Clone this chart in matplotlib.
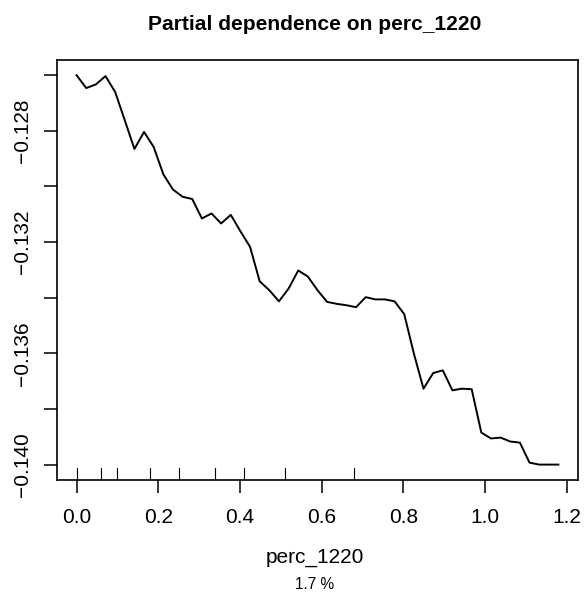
import numpy as np
import matplotlib
matplotlib.use("Agg")
import matplotlib.pyplot as plt

plt.rcParams['font.family'] = ['Liberation Sans', 'DejaVu Sans']

# ====== data ======
x_lo, x_hi, n_pts = 0.0, 1.18, 51
pd_values = [-0.12600, -0.12646, -0.12633, -0.12603, -0.12660, -0.12762, -0.12865,
             -0.12804, -0.12858, -0.12956, -0.13011, -0.13037, -0.13045, -0.13115,
             -0.13097, -0.13133, -0.13102, -0.13161, -0.13217, -0.13341, -0.13373,
             -0.13413, -0.13367, -0.13302, -0.13324, -0.13373, -0.13415, -0.13422,
             -0.13427, -0.13434, -0.13398, -0.13406, -0.13406, -0.13413, -0.13459,
             -0.13601, -0.13727, -0.13671, -0.13661, -0.13733, -0.13727, -0.13729,
             -0.13885, -0.13906, -0.13903, -0.13917, -0.13921, -0.13993, -0.14000,
             -0.14000, -0.14000]
deciles = [0.0, 0.06, 0.10, 0.18, 0.25, 0.34, 0.41, 0.51, 0.68]
xticks = [0.0, 0.2, 0.4, 0.6, 0.8, 1.0, 1.2]
yticks = [-0.140, -0.138, -0.136, -0.134, -0.132, -0.130, -0.128, -0.126]
ytick_labels = ['\u22120.140', '', '\u22120.136', '', '\u22120.132', '', '\u22120.128', '']
var_name = 'perc_1220'
importance = '1.7 %'

x_grid = np.linspace(x_lo, x_hi, n_pts)

fig = plt.figure(figsize=(5.85, 5.95), dpi=100)
ax = fig.add_axes([0.098, 0.193, 0.8895, 0.7067])

ax.plot(x_grid, pd_values, color='black', lw=1.4)

# R style 4% padding
xr = x_hi - x_lo
yr = max(pd_values) - min(pd_values)
ax.set_xlim(x_lo - 0.04 * xr, x_hi + 0.04 * xr)
ax.set_ylim(min(pd_values) - 0.04 * yr, max(pd_values) + 0.04 * yr)

# rug of deciles
ylo, yhi = ax.get_ylim()
rug_len = 0.03 * (yhi - ylo)
for d in deciles:
    ax.plot([d, d], [ylo, ylo + rug_len], color='black', lw=0.8)
ax.set_ylim(ylo, yhi)

ax.set_xticks(xticks)
ax.set_xticklabels(['%.1f' % t for t in xticks], fontsize=15)
ax.set_yticks(yticks)
ax.set_yticklabels(ytick_labels, fontsize=15, rotation=90, va='center')
ax.tick_params(axis='both', length=9.4, width=1.1, color='black')
ax.tick_params(axis='x', pad=11)
ax.tick_params(axis='y', pad=9)
for s in ax.spines.values():
    s.set_linewidth(1.2)

fig.text(0.5385, 0.9585, 'Partial dependence on ' + var_name, ha='center', va='center',
         fontsize=15.1, fontweight='bold')
fig.text(0.5385, 0.063, var_name, ha='center', va='center', fontsize=15)
fig.text(0.5385, 0.018, importance, ha='center', va='center', fontsize=11.2)

fig.savefig('out.png', dpi=100)
